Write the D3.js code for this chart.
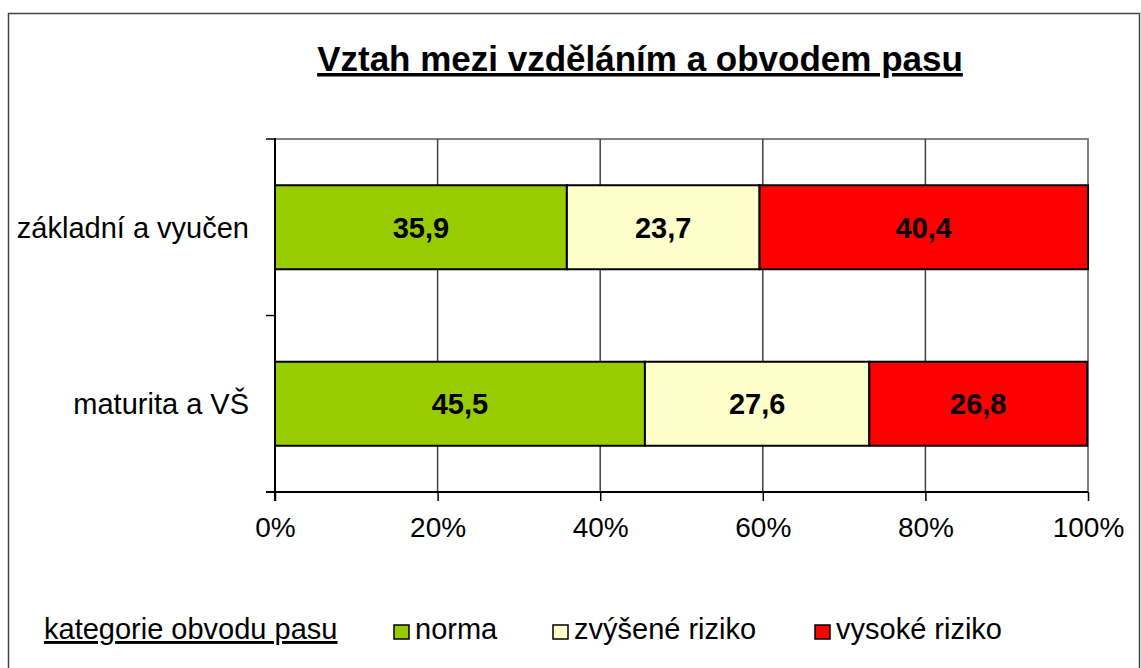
<!DOCTYPE html>
<html>
<head>
<meta charset="utf-8">
<script src="https://cdn.jsdelivr.net/npm/d3@7"></script>
<style>
body { margin: 0; background: #fff; }
text { font-family: "Liberation Sans", Arial, sans-serif; }
</style>
</head>
<body>
<div id="chart"></div>
<script>
// data
var categories = ["základní a vyučen", "maturita a VŠ"];
var seriesNames = ["norma", "zvýšené riziko", "vysoké riziko"];
var seriesColors = ["#99cc00", "#ffffcc", "#ff0000"];
var norma = [35.9, 45.5];
var zvysene = [23.7, 27.6];
var vysoke = [40.4, 26.8];
var xTicks = [0, 20, 40, 60, 80, 100];

var width = 1141, height = 668;
var margin = {left: 275, right: 53, top: 139, bottom: 176};

var svg = d3.select("#chart").append("svg")
    .attr("width", width)
    .attr("height", height);

// outer frame
svg.append("rect")
    .attr("x", 8.5).attr("y", 13.5)
    .attr("width", 1131).attr("height", 670)
    .attr("fill", "none").attr("stroke", "#444").attr("stroke-width", 1.5);

var x = d3.scaleLinear().domain([0, 100]).range([margin.left, width - margin.right]);
var y = d3.scaleBand().domain(categories).range([margin.top, height - margin.bottom])
    .paddingInner(0.524).paddingOuter(0.262);

// stack
var rows = categories.map(function(c, i) {
    return {cat: c, norma: norma[i], zvysene: zvysene[i], vysoke: vysoke[i]};
});
var stack = d3.stack().keys(["norma", "zvysene", "vysoke"])(rows);

// plot area border (top/right gray)
var x0 = x(0), x1 = x(100), y0 = margin.top, y1 = height - margin.bottom;
svg.append("path")
    .attr("d", "M" + x0 + "," + y0 + "H" + x1 + "V" + y1)
    .attr("fill", "none").attr("stroke", "#808080").attr("stroke-width", 2);

// gridlines
svg.selectAll("line.grid").data(xTicks.slice(1, -1)).enter().append("line")
    .attr("class", "grid")
    .attr("x1", function(d){ return x(d); }).attr("x2", function(d){ return x(d); })
    .attr("y1", y0).attr("y2", y1)
    .attr("stroke", "#404040").attr("stroke-width", 1.5);

// bars
var layer = svg.selectAll("g.layer").data(stack).enter().append("g")
    .attr("class", "layer")
    .attr("fill", function(d, i){ return seriesColors[i]; });

layer.selectAll("rect").data(function(d){ return d; }).enter().append("rect")
    .attr("x", function(d){ return x(d[0]); })
    .attr("width", function(d){ return x(d[1]) - x(d[0]); })
    .attr("y", function(d){ return y(d.data.cat); })
    .attr("height", y.bandwidth())
    .attr("stroke", "#000").attr("stroke-width", 2);

layer.selectAll("text").data(function(d){ return d; }).enter().append("text")
    .attr("x", function(d){ return (x(d[0]) + x(d[1])) / 2; })
    .attr("y", function(d){ return y(d.data.cat) + y.bandwidth() / 2; })
    .attr("dy", "0.36em")
    .attr("text-anchor", "middle")
    .attr("fill", "#000")
    .style("font-size", "29px").style("font-weight", "bold")
    .text(function(d){ return d3.format(".1f")(d[1] - d[0]).replace(".", ","); });

// x axis
var xAxis = d3.axisBottom(x).tickValues(xTicks).tickSize(9)
    .tickFormat(function(d){ return d + "%"; });
var gx = svg.append("g").attr("transform", "translate(0," + y1 + ")").call(xAxis);
gx.select(".domain").attr("stroke", "#000").attr("stroke-width", 2)
    .attr("d", "M" + (x0 - 9) + ",0H" + x1);
gx.selectAll(".tick line").attr("stroke", "#000").attr("stroke-width", 1.5);
gx.selectAll(".tick text").attr("fill", "#000").attr("y", 45).attr("dy", 0)
    .style("font-size", "28px").style("font-family", "'Liberation Sans', Arial, sans-serif");

// y axis
var gy = svg.append("g").attr("transform", "translate(" + x0 + ",0)");
gy.append("line").attr("x1", 0).attr("x2", 0).attr("y1", y0 - 1).attr("y2", y1 + 9)
    .attr("stroke", "#000").attr("stroke-width", 2);
var yTickPos = [y0, (y0 + y1) / 2, y1];
gy.selectAll("line.yt").data(yTickPos).enter().append("line")
    .attr("class", "yt")
    .attr("x1", -9).attr("x2", 0)
    .attr("y1", function(d){ return d; }).attr("y2", function(d){ return d; })
    .attr("stroke", "#000").attr("stroke-width", 1.5);
gy.selectAll("text").data(categories).enter().append("text")
    .attr("x", -26)
    .attr("y", function(d){ return y(d) + y.bandwidth() / 2; })
    .attr("dy", "0.36em")
    .attr("text-anchor", "end")
    .style("font-size", "29px")
    .text(function(d){ return d; });

// title
svg.append("text")
    .attr("x", 640).attr("y", 71)
    .attr("text-anchor", "middle")
    .style("font-size", "35px").style("font-weight", "bold")
    .style("text-decoration", "underline")
    .text("Vztah mezi vzděláním a obvodem pasu");

// legend
svg.append("text")
    .attr("x", 44).attr("y", 639)
    .style("font-size", "29px")
    .style("text-decoration", "underline")
    .text("kategorie obvodu pasu");

var legX = [394, 553, 815];
var leg = svg.selectAll("g.leg").data(seriesNames).enter().append("g")
    .attr("class", "leg")
    .attr("transform", function(d, i){ return "translate(" + legX[i] + ",625)"; });
leg.append("rect").attr("width", 15).attr("height", 14)
    .attr("fill", function(d, i){ return seriesColors[i]; })
    .attr("stroke", "#000").attr("stroke-width", 1.5);
leg.append("text").attr("x", 21).attr("y", 14)
    .style("font-size", "29px")
    .text(function(d){ return d; });
</script>
</body>
</html>
